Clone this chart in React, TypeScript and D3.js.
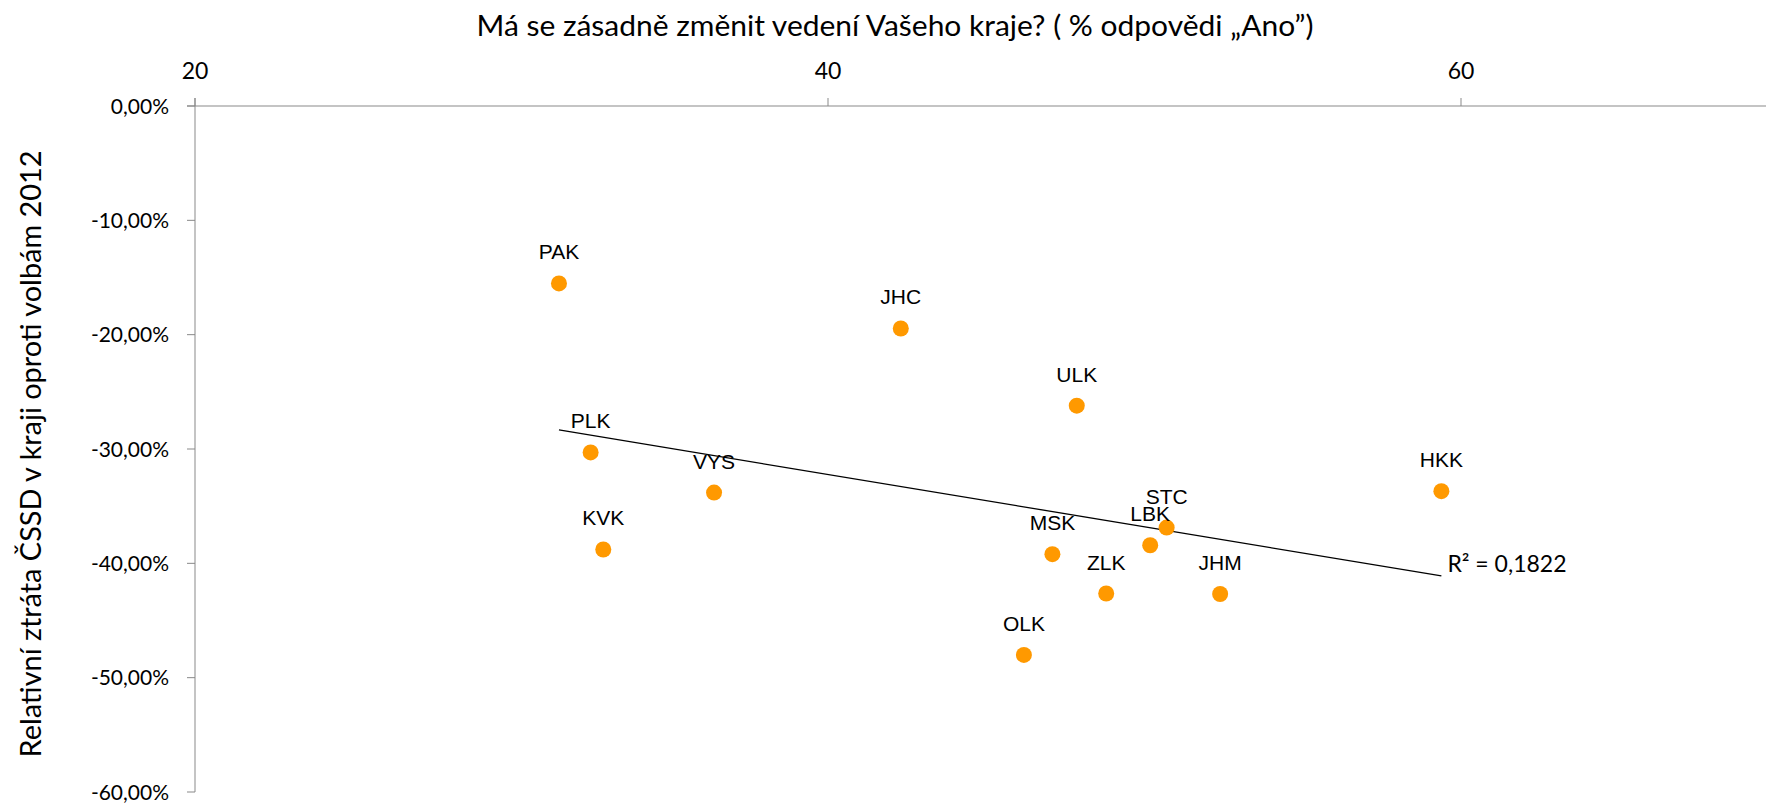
import React from "react";
import * as d3 from "d3";

// kraje a jejich hodnoty
const regions = ["PAK", "JHC", "ULK", "PLK", "VYS", "KVK", "HKK", "STC", "LBK", "MSK", "ZLK", "JHM", "OLK"];
const changeYes = [31.5, 42.3, 47.86, 32.5, 36.4, 32.9, 59.38, 50.7, 50.18, 47.09, 48.79, 52.39, 46.19];
const cssdLoss = [-15.52, -19.46, -26.21, -30.3, -33.81, -38.79, -33.69, -36.87, -38.42, -39.2, -42.64, -42.68, -48.01];

const xTicks = [20, 40, 60];
const yTicks = [0, -10, -20, -30, -40, -50, -60];

const xTitle = "Má se zásadně změnit vedení Vašeho kraje? ( % odpovědi „Ano”)";
const yTitle = "Relativní ztráta ČSSD v kraji oproti volbám 2012";
const r2Label = "R² = 0,1822";

const W = 1766;
const H = 803;
const calibriLike = "Lato, 'Open Sans', sans-serif";
const arialLike = "'Liberation Sans', Arial, sans-serif";

const czLocale = d3.formatLocale({
  decimal: ",",
  thousands: " ",
  grouping: [3],
  currency: ["", ""],
  minus: "-",
});
const fmtPct = (d: number) => czLocale.format(".2f")(d) + "%";

export default function App() {
  const x = d3.scaleLinear().domain([20, 60]).range([195, 1461]);
  const y = d3.scaleLinear().domain([0, -60]).range([106, 792]);

  const points = regions.map((r, i) => ({ name: r, vx: changeYes[i], vy: cssdLoss[i] }));

  // lineární trend (nejmenší čtverce)
  const mx = d3.mean(changeYes) as number;
  const my = d3.mean(cssdLoss) as number;
  const sxy = d3.sum(points, (p) => (p.vx - mx) * (p.vy - my));
  const sxx = d3.sum(points, (p) => (p.vx - mx) ** 2);
  const slope = sxy / sxx;
  const icpt = my - slope * mx;
  const [x0, x1] = d3.extent(changeYes) as [number, number];
  const trend = d3.line<number>()
    .x((d) => x(d))
    .y((d) => y(icpt + slope * d));

  const axisColor = "#898989";

  return (
    <div style={{ position: "absolute", left: 0, top: 0 }}>
      <svg width={W} height={H} style={{ display: "block", background: "#fff" }}>
        {/* titulek osy x */}
        <text
          x={895}
          y={36}
          textAnchor="middle"
          fontFamily={calibriLike}
          fontSize={29}
          textLength={837}
          lengthAdjust="spacingAndGlyphs"
          fill="#000"
        >
          {xTitle}
        </text>

        {/* osa x nahoře */}
        <line x1={187} x2={W} y1={y(0)} y2={y(0)} stroke={axisColor} />
        {xTicks.map((t) => (
          <g key={t}>
            <line x1={x(t)} x2={x(t)} y1={y(0) - 8} y2={y(0)} stroke={axisColor} />
            <text x={x(t)} y={79} textAnchor="middle" fontFamily={calibriLike} fontSize={23} fill="#000">
              {t}
            </text>
          </g>
        ))}

        {/* osa y */}
        <line x1={x(20)} x2={x(20)} y1={y(0) - 8} y2={y(-60)} stroke={axisColor} />
        {yTicks.map((t) => (
          <g key={t}>
            <line x1={x(20) - 8} x2={x(20)} y1={y(t)} y2={y(t)} stroke={axisColor} />
            <text
              x={169}
              y={y(t)}
              dy="0.36em"
              textAnchor="end"
              fontFamily={calibriLike}
              fontSize={21}
              fill="#000"
            >
              {fmtPct(t)}
            </text>
          </g>
        ))}

        {/* titulek osy y */}
        <text
          transform={`translate(41,454) rotate(-90)`}
          textAnchor="middle"
          fontFamily={calibriLike}
          fontSize={29}
          textLength={607}
          lengthAdjust="spacingAndGlyphs"
          fill="#000"
        >
          {yTitle}
        </text>

        {/* trend */}
        <path d={trend([x0, x1]) as string} fill="none" stroke="#000" strokeWidth={1.3} />
        <text x={x(x1) + 6} y={572} fontFamily={calibriLike} fontSize={23} fill="#000">
          {r2Label}
        </text>

        {/* body */}
        {points.map((p) => (
          <g key={p.name}>
            <circle cx={x(p.vx)} cy={y(p.vy)} r={8} fill="#FF9900" />
            <text
              x={x(p.vx)}
              y={y(p.vy) - 24}
              textAnchor="middle"
              fontFamily={arialLike}
              fontSize={21}
              fill="#000"
            >
              {p.name}
            </text>
          </g>
        ))}
      </svg>
    </div>
  );
}
